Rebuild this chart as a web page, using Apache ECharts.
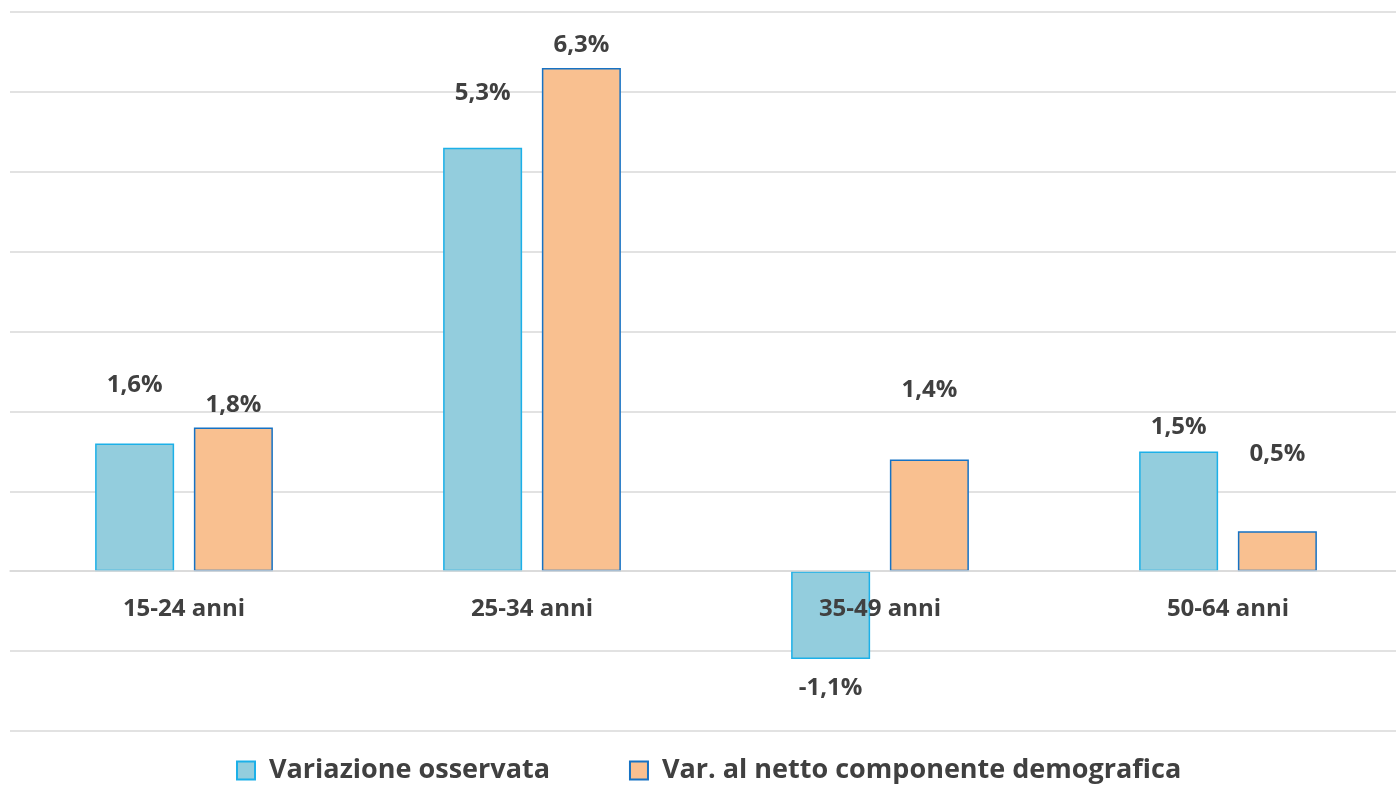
<!DOCTYPE html>
<html><head><meta charset="utf-8">
<script src="https://cdn.jsdelivr.net/npm/echarts@6/dist/echarts.min.js"></script>
<style>html,body{margin:0;padding:0;background:#fff;overflow:hidden}#c{width:1404px;height:796px}</style>
</head><body><div id="c"></div>
<script>
const categories = ['15-24 anni', '25-34 anni', '35-49 anni', '50-64 anni'];
const seriesNames = ['Variazione osservata', 'Var. al netto componente demografica'];
const observed = [1.6, 5.3, -1.1, 1.5];
const netOfDemo = [1.8, 6.3, 1.4, 0.5];
// label distances (Excel-like placement)
const obsLabelDist = [46, 43, 17, 12];
const netLabelDist = [10, 11, 57, 65];

const fmt = v => (v.toFixed(1).replace('.', ',')) + '%';
const FONT = '"Open Sans", sans-serif';
const TXT = '#404040';

function mk(values, dists) {
  return values.map((v, i) => ({
    value: v,
    label: { position: v < 0 ? 'bottom' : 'top', distance: dists[i] }
  }));
}

const chart = echarts.init(document.getElementById('c'), null, { renderer: 'canvas' });
chart.setOption({
  animation: false,
  backgroundColor: '#fff',
  grid: { left: 10, right: 2, top: 12, bottom: 65, containLabel: false },
  legend: {
    top: 757, left: 236, padding: 0,
    itemWidth: 18, itemHeight: 18, itemGap: 79,
    icon: 'rect',
    textStyle: { fontFamily: FONT, fontWeight: 'bold', fontSize: 27, color: TXT, padding: [0, 0, 0, 9] },
    data: seriesNames
  },
  xAxis: {
    type: 'category', data: categories,
    offset: -160, z: 5,
    axisLine: { show: true, onZero: false, lineStyle: { color: '#D9D9D9', width: 1.5 } },
    axisTick: { show: false },
    axisLabel: { margin: 26, fontFamily: FONT, fontWeight: 'bold', fontSize: 24, color: TXT }
  },
  yAxis: {
    type: 'value', min: -2, max: 7, interval: 1,
    axisLabel: { show: false }, axisLine: { show: false }, axisTick: { show: false },
    splitLine: { lineStyle: { color: '#D9D9D9', width: 1.5 } }
  },
  series: [
    {
      name: seriesNames[0], type: 'bar', data: mk(observed, obsLabelDist),
      barWidth: 79, barGap: '25%',
      itemStyle: { color: '#93CDDD', borderColor: '#1CB0E8', borderWidth: 1.5 },
      label: { show: true, formatter: p => fmt(p.value), fontFamily: FONT, fontWeight: 'bold', fontSize: 24, color: TXT }
    },
    {
      name: seriesNames[1], type: 'bar', data: mk(netOfDemo, netLabelDist),
      barWidth: 79,
      itemStyle: { color: '#F9C090', borderColor: '#1672C4', borderWidth: 1.5 },
      label: { show: true, formatter: p => fmt(p.value), fontFamily: FONT, fontWeight: 'bold', fontSize: 24, color: TXT }
    }
  ]
});
</script></body></html>
